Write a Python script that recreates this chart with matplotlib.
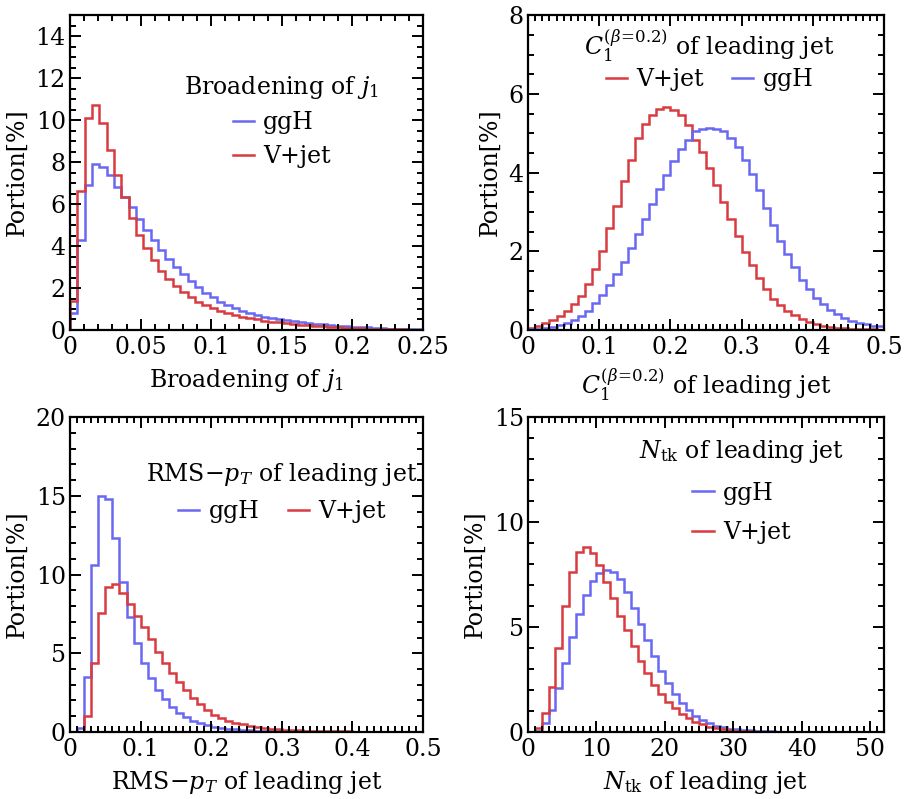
import matplotlib
matplotlib.use("Agg")
import matplotlib.pyplot as plt
import numpy as np
from matplotlib.ticker import MultipleLocator

plt.rcParams['font.family'] = ['DejaVu Serif']
plt.rcParams['mathtext.fontset'] = 'dejavuserif'

RED = '#d83b40'
BLUE = '#6868f3'

# Broadening of j1
broad_edges = np.arange(51) * 0.0052
broad_ggh = [0.80, 4.29, 6.90, 7.89, 7.75, 7.38, 6.83, 6.32, 5.84, 5.30,
             4.76, 4.29, 3.81, 3.37, 2.98, 2.67, 2.33, 2.03, 1.78, 1.56,
             1.35, 1.19, 1.03, 0.92, 0.79, 0.71, 0.64, 0.58, 0.52, 0.47,
             0.42, 0.38, 0.34, 0.30, 0.27, 0.24, 0.21, 0.19, 0.16, 0.14,
             0.12, 0.10, 0.09, 0.07, 0.06, 0.05, 0.04, 0.03, 0.03, 0.02]
broad_vjet = [1.40, 6.62, 10.08, 10.71, 9.84, 8.57, 7.38, 6.32, 5.32, 4.52,
              3.89, 3.33, 2.83, 2.41, 2.10, 1.83, 1.59, 1.35, 1.19, 1.03,
              0.90, 0.79, 0.71, 0.63, 0.57, 0.50, 0.45, 0.40, 0.36, 0.32,
              0.28, 0.25, 0.22, 0.19, 0.17, 0.15, 0.13, 0.11, 0.10, 0.08,
              0.07, 0.06, 0.05, 0.04, 0.03, 0.03, 0.02, 0.02, 0.02, 0.01]

# C1 (beta=0.2) of leading jet (bins of 0.01)
c1_edges = np.arange(51) * 0.01
c1_vjet = [0.04, 0.10, 0.17, 0.25, 0.36, 0.49, 0.65, 0.86, 1.16, 1.56,
           2.01, 2.58, 3.15, 3.78, 4.33, 4.88, 5.24, 5.46, 5.61, 5.67,
           5.60, 5.46, 5.22, 4.84, 4.53, 4.12, 3.68, 3.26, 2.83, 2.39,
           1.99, 1.65, 1.33, 1.03, 0.80, 0.63, 0.48, 0.38, 0.27, 0.21,
           0.15, 0.10, 0.08, 0.06, 0.04, 0.03, 0.03, 0.02, 0.02, 0.01]
c1_ggh = [0.02, 0.03, 0.05, 0.08, 0.13, 0.19, 0.25, 0.36, 0.49, 0.68,
          0.89, 1.14, 1.42, 1.73, 2.09, 2.44, 2.83, 3.21, 3.58, 3.95,
          4.30, 4.59, 4.84, 5.05, 5.12, 5.14, 5.11, 5.06, 4.89, 4.65,
          4.33, 3.96, 3.55, 3.11, 2.66, 2.27, 1.92, 1.61, 1.27, 1.03,
          0.82, 0.66, 0.51, 0.40, 0.31, 0.24, 0.19, 0.14, 0.11, 0.09]

# RMS-pT of leading jet (bins of 0.01)
rms_edges = np.arange(51) * 0.01
rms_ggh = [0.02, 0.23, 3.47, 10.60, 14.98, 14.77, 12.30, 9.55, 7.32, 5.63,
           4.40, 3.41, 2.67, 2.07, 1.61, 1.23, 0.93, 0.72, 0.55, 0.42,
           0.34, 0.27, 0.21, 0.17, 0.13, 0.10, 0.08, 0.06, 0.05, 0.04,
           0.03, 0.02, 0.02, 0.01, 0.01, 0.01, 0.01, 0.0, 0.0, 0.0,
           0.0, 0.0, 0.0, 0.0, 0.0, 0.0, 0.0, 0.0, 0.0, 0.0]
rms_vjet = [0.0, 0.0, 1.02, 4.36, 7.58, 9.23, 9.40, 8.80, 8.10, 7.37,
            6.69, 5.88, 5.10, 4.40, 3.77, 3.20, 2.67, 2.14, 1.76, 1.40,
            1.08, 0.87, 0.72, 0.59, 0.48, 0.40, 0.32, 0.26, 0.22, 0.18,
            0.15, 0.12, 0.10, 0.08, 0.07, 0.06, 0.05, 0.04, 0.03, 0.03,
            0.02, 0.02, 0.02, 0.01, 0.01, 0.01, 0.01, 0.01, 0.0, 0.0]

# N_tk of leading jet (integer bins)
ntk_edges = np.arange(53)
ntk_ggh = [0.0, 0.06, 0.41, 1.05, 2.08, 3.30, 4.54, 5.62, 6.52, 7.19,
           7.56, 7.71, 7.63, 7.27, 6.68, 5.92, 5.13, 4.38, 3.62, 2.90,
           2.35, 1.81, 1.40, 1.05, 0.78, 0.57, 0.41, 0.30, 0.22, 0.16,
           0.12, 0.09, 0.07, 0.05, 0.04, 0.03, 0.02, 0.02, 0.01, 0.01,
           0.01, 0.0, 0.0, 0.0, 0.0, 0.0, 0.0, 0.0, 0.0, 0.0, 0.0, 0.0]
ntk_vjet = [0.0, 0.17, 0.89, 2.16, 3.98, 6.00, 7.63, 8.59, 8.83, 8.54,
            7.95, 7.16, 6.40, 5.52, 4.86, 4.10, 3.40, 2.79, 2.24, 1.81,
            1.44, 1.13, 0.86, 0.65, 0.49, 0.37, 0.25, 0.17, 0.12, 0.09,
            0.06, 0.05, 0.03, 0.02, 0.02, 0.01, 0.01, 0.01, 0.0, 0.0,
            0.0, 0.0, 0.0, 0.0, 0.0, 0.0, 0.0, 0.0, 0.0, 0.0, 0.0, 0.0]

LBL_BROAD = r'Broadening of $j_1$'
LBL_C1 = r'$C_1^{(\beta\!=\!0.2)}$ of leading jet'
LBL_RMS = r'RMS$-p_T$ of leading jet'
LBL_NTK = r'$N_{\rm tk}$ of leading jet'

FS = 17

fig = plt.figure(figsize=(9.06, 7.99), dpi=100)

# axes positions (left, bottom, width, height) in figure fraction
ax1 = fig.add_axes([0.0773, 0.587, 0.3896, 0.394])
ax2 = fig.add_axes([0.5828, 0.587, 0.3930, 0.394])
ax3 = fig.add_axes([0.0773, 0.0839, 0.3896, 0.394])
ax4 = fig.add_axes([0.5828, 0.0839, 0.3930, 0.394])


def style_axis(ax, xlim, ylim, xmaj, xmin, ymaj, ymin, xlabel):
    ax.set_xlim(*xlim)
    ax.set_ylim(*ylim)
    ax.xaxis.set_major_locator(MultipleLocator(xmaj))
    ax.xaxis.set_minor_locator(MultipleLocator(xmin))
    ax.yaxis.set_major_locator(MultipleLocator(ymaj))
    ax.yaxis.set_minor_locator(MultipleLocator(ymin))
    ax.tick_params(which='both', direction='in', top=True, right=True,
                   labelsize=FS, width=1.4)
    ax.tick_params(axis='x', pad=4)
    ax.tick_params(axis='y', pad=3)
    ax.tick_params(which='major', length=8)
    ax.tick_params(which='minor', length=4)
    for spine in ax.spines.values():
        spine.set_linewidth(1.6)
    ax.set_xlabel(xlabel, fontsize=FS, labelpad=6)
    ax.set_ylabel('Portion[%]', fontsize=FS, labelpad=5)


def x_fmt(v, pos):
    if abs(v) < 1e-9:
        return '0'
    return ('%g' % v)


# top-left
ax1.stairs(broad_ggh, broad_edges, color=BLUE, linewidth=1.8, label='ggH')
ax1.stairs(broad_vjet, broad_edges, color=RED, linewidth=1.8, label='V+jet')
style_axis(ax1, (0, 0.25), (0, 15), 0.05, 0.01, 2, 0.5, LBL_BROAD)
ax1.legend(title=LBL_BROAD, loc='center', bbox_to_anchor=(0.60, 0.665),
           frameon=False, fontsize=FS, title_fontsize=FS, handlelength=0.9,
           handletextpad=0.4, labelspacing=0.45)

# top-right
ax2.stairs(c1_vjet, c1_edges, color=RED, linewidth=1.8, label='V+jet')
ax2.stairs(c1_ggh, c1_edges, color=BLUE, linewidth=1.8, label='ggH')
style_axis(ax2, (0, 0.5), (0, 8), 0.1, 0.01, 2, 0.5, LBL_C1)
ax2.legend(title=LBL_C1, loc='center', bbox_to_anchor=(0.51, 0.86),
           frameon=False, fontsize=FS, title_fontsize=FS, handlelength=0.9,
           handletextpad=0.4, ncol=2, columnspacing=1.2, borderpad=0.1,
           labelspacing=0.2)

# bottom-left
ax3.stairs(rms_ggh, rms_edges, color=BLUE, linewidth=1.8, label='ggH')
ax3.stairs(rms_vjet, rms_edges, color=RED, linewidth=1.8, label='V+jet')
style_axis(ax3, (0, 0.5), (0, 20), 0.1, 0.01, 5, 1, LBL_RMS)
ax3.legend(title=LBL_RMS, loc='center', bbox_to_anchor=(0.60, 0.762),
           frameon=False, fontsize=FS, title_fontsize=FS, handlelength=0.9,
           handletextpad=0.4, ncol=2, columnspacing=1.2, borderpad=0.1)

# bottom-right
ax4.stairs(ntk_ggh, ntk_edges, color=BLUE, linewidth=1.8, label='ggH')
ax4.stairs(ntk_vjet, ntk_edges, color=RED, linewidth=1.8, label='V+jet')
style_axis(ax4, (0, 52), (0, 15), 10, 1, 5, 1, LBL_NTK)
ax4.legend(title=LBL_NTK, loc='center', bbox_to_anchor=(0.60, 0.765),
           frameon=False, fontsize=FS, title_fontsize=FS, handlelength=0.9,
           handletextpad=0.4, labelspacing=0.7)

for ax in (ax1, ax2, ax3, ax4):
    ax.xaxis.set_major_formatter(plt.FuncFormatter(x_fmt))

fig.savefig('out.png', dpi=100)
